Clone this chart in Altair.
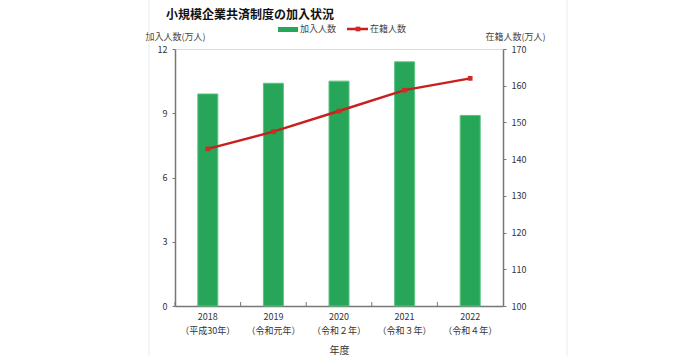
import altair as alt
import pandas as pd

years = ["2018", "2019", "2020", "2021", "2022"]
eras = ["（平成30年）", "（令和元年）", "（令和２年）", "（令和３年）", "（令和４年）"]
joined = [9.9, 10.4, 10.5, 11.4, 8.9]          # 加入人数 (万人)
enrolled = [142.8, 147.5, 153.1, 158.8, 162.0]  # 在籍人数 (万人)

FONT = "Noto Sans CJK JP"
W, H = 328, 257

df = pd.DataFrame({
    "year": [f"{y}|{e}" for y, e in zip(years, eras)],
    "joined": joined,
    "enrolled": enrolled,
})

xscale = alt.Scale(paddingInner=0, paddingOuter=0)
xenc = alt.X(
    "year:N", scale=xscale, sort=None,
    axis=alt.Axis(
        title="年度", labelExpr="split(datum.label, '|')", labelAngle=0,
        labelFont=FONT, labelFontSize=9, labelColor="#333", labelLineHeight=14,
        labelBaseline="top", labelPadding=6, ticks=False,
        domainColor="#777", domainWidth=1.5,
        titleFont=FONT, titleFontSize=10, titleFontWeight="normal", titleColor="#333",
        titleY=44, titleBaseline="middle",
    ),
)

bars = alt.Chart(df).mark_bar(size=20, color="#27a659", stroke="#5cc282", strokeWidth=1).encode(
    x=xenc,
    y=alt.Y(
        "joined:Q", scale=alt.Scale(domain=[0, 12]),
        axis=alt.Axis(
            values=[0, 3, 6, 9, 12], title="加入人数(万人)", grid=False,
            labelFont=FONT, labelFontSize=9, labelColor="#333", labelPadding=5,
            tickSize=3, tickColor="#777", domainColor="#777", domainWidth=1.5,
            titleFont=FONT, titleFontSize=9, titleFontWeight="normal", titleColor="#444",
            titleAngle=0, titleAlign="left", titleBaseline="bottom", titleX=-30, titleY=-8,
        ),
    ),
)

xticks = alt.Chart(df).mark_rule(color="#777", strokeWidth=1).encode(
    x=alt.X("year:N", scale=xscale, sort=None, bandPosition=0),
    y=alt.value(H - 4), y2=alt.value(H),
)

line = alt.Chart(df).mark_line(color="#c8201e", strokeWidth=2.5).encode(
    x=alt.X("year:N", scale=xscale, sort=None),
    y=alt.Y(
        "enrolled:Q", scale=alt.Scale(domain=[100, 170]),
        axis=alt.Axis(
            orient="right", values=list(range(100, 171, 10)), title="在籍人数(万人)", grid=False,
            labelFont=FONT, labelFontSize=9, labelColor="#333", labelPadding=5,
            tickSize=3, tickColor="#777", domainColor="#777", domainWidth=1.5,
            titleFont=FONT, titleFontSize=9, titleFontWeight="normal", titleColor="#444",
            titleAngle=0, titleAlign="right", titleBaseline="bottom", titleX=42, titleY=-8,
        ),
    ),
)
pts = alt.Chart(df).mark_square(color="#d02a28", size=22, opacity=1).encode(
    x=alt.X("year:N", scale=xscale, sort=None),
    y=alt.Y("enrolled:Q", scale=alt.Scale(domain=[100, 170]), axis=None),
)

one = alt.Data(values=[{}])
title = alt.Chart(one).mark_text(
    text="小規模企業共済制度の加入状況", font=FONT, fontSize=12, fontWeight="bold",
    align="left", baseline="middle", color="#111",
).encode(x=alt.value(-9), y=alt.value(-34))

leg_sw = alt.Chart(one).mark_rect(color="#27a659").encode(
    x=alt.value(103), x2=alt.value(123), y=alt.value(-22), y2=alt.value(-17))
leg_t1 = alt.Chart(one).mark_text(
    text="加入人数", font=FONT, fontSize=9, align="left", baseline="middle", color="#444"
).encode(x=alt.value(125), y=alt.value(-20))
leg_ln = alt.Chart(one).mark_rule(color="#c8201e", strokeWidth=2.5).encode(
    x=alt.value(172), x2=alt.value(193), y=alt.value(-20))
leg_pt = alt.Chart(one).mark_square(color="#d02a28", size=22, opacity=1).encode(
    x=alt.value(183), y=alt.value(-20))
leg_t2 = alt.Chart(one).mark_text(
    text="在籍人数", font=FONT, fontSize=9, align="left", baseline="middle", color="#444"
).encode(x=alt.value(195), y=alt.value(-20))

border_l = alt.Chart(one).mark_rule(color="#ebebeb", strokeWidth=1).encode(
    x=alt.value(-26), y=alt.value(-49), y2=alt.value(H + 50))
border_r = alt.Chart(one).mark_rule(color="#ebebeb", strokeWidth=1).encode(
    x=alt.value(W + 64), y=alt.value(-49), y2=alt.value(H + 50))

chart = alt.layer(
    border_l, border_r,
    alt.layer(bars, xticks, line, pts).resolve_scale(y="independent"),
    title, leg_sw, leg_t1, leg_ln, leg_pt, leg_t2,
).resolve_scale(y="independent").properties(
    width=W, height=H,
    autosize=alt.AutoSizeParams(type="none"),
    padding={"left": 175, "top": 49, "right": 197, "bottom": 50},
).configure_view(stroke=None).configure(background="white")

chart.save("out.html", embed_options={"renderer": "svg", "actions": False})
